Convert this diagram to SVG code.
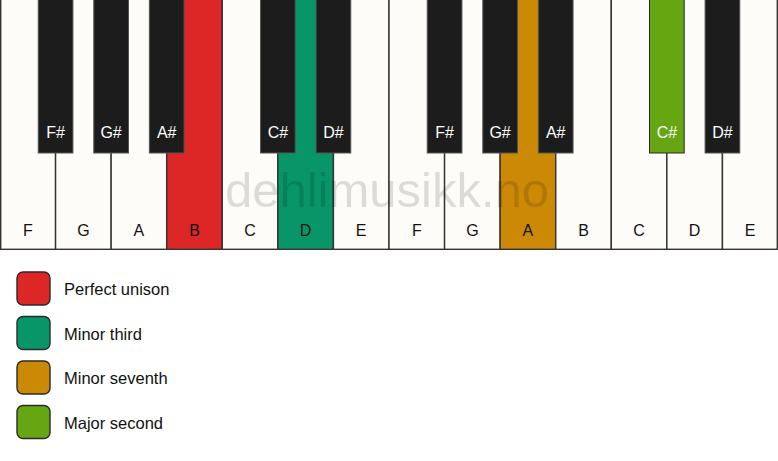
<svg xmlns="http://www.w3.org/2000/svg" width="778" height="461" viewBox="0 0 778 461">
<style>
.w{fill:#fdfcf9;stroke:#333;stroke-width:1.4}
.b{fill:#1c1c1c;stroke:#555;stroke-width:1}
.wl{font-family:"Liberation Sans",Arial,sans-serif;font-size:16px;fill:#111;text-anchor:middle}
.bl{font-family:"Liberation Sans",Arial,sans-serif;font-size:16px;fill:#fff;text-anchor:middle}
.lg{stroke:#2a2a2a;stroke-width:1.4}
.lt{font-family:"Liberation Sans",Arial,sans-serif;font-size:16.5px;fill:#111}
.red{fill:#dd2727}.grn{fill:#089669}.org{fill:#cc8906}.lim{fill:#66a613}
</style>
<rect width="778" height="461" fill="#ffffff"/>
<g id="white-keys">
<g id="w-F1"><rect class="w" x="0.7" y="-2" width="54.87" height="251.3"/><text class="wl" x="27.8" y="236">F</text></g>
<g id="w-G1"><rect class="w" x="55.57" y="-2" width="55.57" height="251.3"/><text class="wl" x="83.4" y="236">G</text></g>
<g id="w-A1"><rect class="w" x="111.14" y="-2" width="55.57" height="251.3"/><text class="wl" x="138.9" y="236">A</text></g>
<g id="w-B1"><rect class="w red" x="166.71" y="-2" width="55.57" height="251.3" style="stroke:#333"/><text class="wl" x="194.5" y="236">B</text></g>
<g id="w-C1"><rect class="w" x="222.29" y="-2" width="55.57" height="251.3"/><text class="wl" x="250.1" y="236">C</text></g>
<g id="w-D1"><rect class="w grn" x="277.86" y="-2" width="55.57" height="251.3" style="stroke:#333"/><text class="wl" x="305.6" y="236">D</text></g>
<g id="w-E1"><rect class="w" x="333.43" y="-2" width="55.57" height="251.3"/><text class="wl" x="361.2" y="236">E</text></g>
<g id="w-F2"><rect class="w" x="389" y="-2" width="55.57" height="251.3"/><text class="wl" x="416.8" y="236">F</text></g>
<g id="w-G2"><rect class="w" x="444.57" y="-2" width="55.57" height="251.3"/><text class="wl" x="472.4" y="236">G</text></g>
<g id="w-A2"><rect class="w org" x="500.14" y="-2" width="55.57" height="251.3" style="stroke:#333"/><text class="wl" x="527.9" y="236">A</text></g>
<g id="w-B2"><rect class="w" x="555.71" y="-2" width="55.57" height="251.3"/><text class="wl" x="583.5" y="236">B</text></g>
<g id="w-C2"><rect class="w" x="611.29" y="-2" width="55.57" height="251.3"/><text class="wl" x="639.1" y="236">C</text></g>
<g id="w-D2"><rect class="w" x="666.86" y="-2" width="55.57" height="251.3"/><text class="wl" x="694.6" y="236">D</text></g>
<g id="w-E2"><rect class="w" x="722.43" y="-2" width="54.87" height="251.3"/><text class="wl" x="750.2" y="236">E</text></g>
</g>
<text x="387" y="207" font-family="Liberation Sans,Arial,sans-serif" font-size="49" fill="#000" fill-opacity="0.13" text-anchor="middle">dehlimusikk.no</text>
<g id="black-keys">
<g id="b-Fs1"><rect class="b" x="38.22" y="-2" width="34.7" height="155"/><text class="bl" x="55.6" y="138">F#</text></g>
<g id="b-Gs1"><rect class="b" x="93.79" y="-2" width="34.7" height="155"/><text class="bl" x="111.1" y="138">G#</text></g>
<g id="b-As1"><rect class="b" x="149.36" y="-2" width="34.7" height="155"/><text class="bl" x="166.7" y="138">A#</text></g>
<g id="b-Cs1"><rect class="b" x="260.51" y="-2" width="34.7" height="155"/><text class="bl" x="277.9" y="138">C#</text></g>
<g id="b-Ds1"><rect class="b" x="316.08" y="-2" width="34.7" height="155"/><text class="bl" x="333.4" y="138">D#</text></g>
<g id="b-Fs2"><rect class="b" x="427.22" y="-2" width="34.7" height="155"/><text class="bl" x="444.6" y="138">F#</text></g>
<g id="b-Gs2"><rect class="b" x="482.79" y="-2" width="34.7" height="155"/><text class="bl" x="500.1" y="138">G#</text></g>
<g id="b-As2"><rect class="b" x="538.36" y="-2" width="34.7" height="155"/><text class="bl" x="555.7" y="138">A#</text></g>
<g id="b-Cs2"><rect class="b lim" x="649.51" y="-2" width="34.7" height="155" style="stroke:#2a2a2a"/><text class="bl" x="666.9" y="138">C#</text></g>
<g id="b-Ds2"><rect class="b" x="705.08" y="-2" width="34.7" height="155"/><text class="bl" x="722.4" y="138">D#</text></g>
</g>
<g id="legend">
<g id="leg-unison"><rect class="lg red" x="17" y="272" width="33" height="33" rx="6"/><text class="lt" x="64" y="295">Perfect unison</text></g>
<g id="leg-minor-third"><rect class="lg grn" x="17" y="316.5" width="33" height="33" rx="6"/><text class="lt" x="64" y="339.5">Minor third</text></g>
<g id="leg-minor-seventh"><rect class="lg org" x="17" y="361" width="33" height="33" rx="6"/><text class="lt" x="64" y="384">Minor seventh</text></g>
<g id="leg-major-second"><rect class="lg lim" x="17" y="405.5" width="33" height="33" rx="6"/><text class="lt" x="64" y="428.5">Major second</text></g>
</g>
<g id="connectors"/>
</svg>
